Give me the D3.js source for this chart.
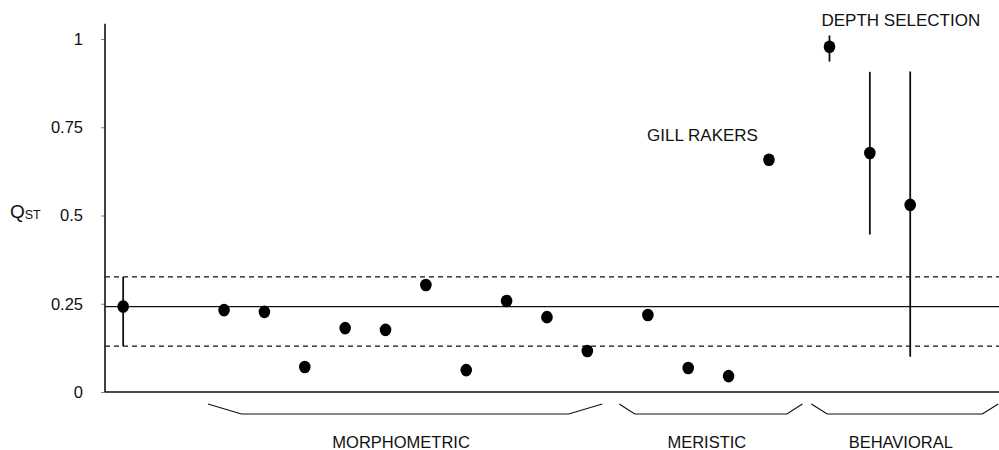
<!DOCTYPE html>
<html>
<head>
<meta charset="utf-8">
<script src="https://cdn.jsdelivr.net/npm/d3@7"></script>
<style>
  body { margin: 0; background: #fff; }
  text { font-family: "Liberation Sans", Arial, sans-serif; fill: #111; }
</style>
</head>
<body>
<div id="chart-container"></div>
<script>
// slot positions of each trait along the x axis
const positions = [0, 2.5, 3.5, 4.5, 5.5, 6.5, 7.5, 8.5, 9.5, 10.5, 11.5, 13, 14, 15, 16, 17.5, 18.5, 19.5];
const qstValues = [0.242, 0.232, 0.227, 0.071, 0.181, 0.176, 0.303, 0.062, 0.258, 0.212, 0.116, 0.218, 0.068, 0.045, 0.658, 0.978, 0.677, 0.530];
const errLow = [0.130, null, null, null, null, null, null, null, null, null, null, null, null, null, null, 0.936, 0.446, 0.100];
const errHigh = [0.326, null, null, null, null, null, null, null, null, null, null, null, null, null, null, 1.010, 0.907, 0.908];
const yTicks = [0, 0.25, 0.5, 0.75, 1];
const yTickLabels = ["0", "0.25", "0.5", "0.75", "1"];
const fstMean = 0.242;
const fstLow = 0.130;
const fstHigh = 0.326;
const groups = ["MORPHOMETRIC", "MERISTIC", "BEHAVIORAL"];
const groupStart = [2.1, 12.29, 17.05];
const groupEnd = [11.87, 16.83, 21.68];
const pointLabels = [
  { index: 14, text: "GILL RAKERS" },
  { index: 15, text: "DEPTH SELECTION" },
];

function chart() {
  const width = 999;
  const height = 450;
  const left = 105;
  const right = 999;
  const top = 39;
  const bottom = 392;

  const svg = d3
    .select("#chart-container")
    .append("svg")
    .attr("width", width)
    .attr("height", height);

  const x = d3.scaleLinear().domain([-0.45, 21.7]).range([left, right]);
  const y = d3.scaleLinear().domain([0, 1]).range([bottom, top]);

  // y axis
  const yAxis = svg
    .append("g")
    .attr("transform", `translate(${left},0)`)
    .call(
      d3
        .axisLeft(y)
        .tickValues(yTicks)
        .tickFormat((d, i) => yTickLabels[i])
        .tickSize(4)
        .tickPadding(18),
    );
  yAxis.select(".domain").remove();
  yAxis.selectAll(".tick line").attr("stroke", "#333").attr("stroke-width", 0.6);
  yAxis
    .selectAll("text")
    .style("font-family", '"Liberation Sans", Arial, sans-serif')
    .style("font-size", "16.5px")
    .attr("fill", "#111");

  svg
    .append("line")
    .attr("x1", left)
    .attr("x2", left)
    .attr("y1", y(0))
    .attr("y2", y(1.043))
    .attr("stroke", "#111")
    .attr("stroke-width", 1.6);

  // x axis baseline
  svg
    .append("line")
    .attr("x1", left)
    .attr("x2", right)
    .attr("y1", y(0))
    .attr("y2", y(0))
    .attr("stroke", "#111")
    .attr("stroke-width", 1.4);

  // Fst mean and confidence limits
  svg
    .append("line")
    .attr("x1", left)
    .attr("x2", right)
    .attr("y1", y(fstMean))
    .attr("y2", y(fstMean))
    .attr("stroke", "#111")
    .attr("stroke-width", 1.3);

  [fstLow, fstHigh].forEach((v) => {
    svg
      .append("line")
      .attr("x1", left)
      .attr("x2", right)
      .attr("y1", y(v))
      .attr("y2", y(v))
      .attr("stroke", "#111")
      .attr("stroke-width", 1.2)
      .attr("stroke-dasharray", "5,4");
  });

  const data = positions.map((p, i) => ({
    pos: p,
    value: qstValues[i],
    low: errLow[i],
    high: errHigh[i],
  }));

  // error bars
  svg
    .selectAll(".err")
    .data(data.filter((d) => d.low !== null))
    .enter()
    .append("line")
    .attr("class", "err")
    .attr("x1", (d) => x(d.pos))
    .attr("x2", (d) => x(d.pos))
    .attr("y1", (d) => y(d.low))
    .attr("y2", (d) => y(d.high))
    .attr("stroke", "#111")
    .attr("stroke-width", 1.8);

  // points
  svg
    .selectAll(".pt")
    .data(data)
    .enter()
    .append("ellipse")
    .attr("class", "pt")
    .attr("cx", (d) => x(d.pos))
    .attr("cy", (d) => y(d.value))
    .attr("rx", 5.8)
    .attr("ry", 6.3)
    .attr("fill", "#000");

  // point labels
  svg
    .append("text")
    .attr("x", x(positions[pointLabels[0].index]) - 11)
    .attr("y", y(qstValues[pointLabels[0].index]) - 19)
    .attr("text-anchor", "end")
    .style("font-size", "17px")
    .text(pointLabels[0].text);

  svg
    .append("text")
    .attr("x", x(positions[pointLabels[1].index]) - 8)
    .attr("y", y(qstValues[pointLabels[1].index]) - 21)
    .attr("text-anchor", "start")
    .style("font-size", "17px")
    .text(pointLabels[1].text);

  // group brackets
  const bracketTop = bottom + 12;
  const bracketBottom = bottom + 22;
  groups.forEach((g, i) => {
    const x0 = x(groupStart[i]);
    const x1 = x(groupEnd[i]);
    const inset = (x1 - x0) * 0.085;
    svg
      .append("path")
      .attr(
        "d",
        d3.line()([
          [x0, bracketTop],
          [x0 + inset, bracketBottom],
          [x1 - inset, bracketBottom],
          [x1, bracketTop],
        ]),
      )
      .attr("fill", "none")
      .attr("stroke", "#111")
      .attr("stroke-width", 1.2);

    svg
      .append("text")
      .attr("x", (x0 + x1) / 2 - 4)
      .attr("y", bottom + 56)
      .attr("text-anchor", "middle")
      .style("font-size", "16.5px")
      .text(g);
  });

  // Q_ST label
  const qLabel = svg
    .append("text")
    .attr("x", 10)
    .attr("y", y(0.5) + 2)
    .style("font-size", "19px");
  qLabel.append("tspan").text("Q");
  qLabel
    .append("tspan")
    .attr("dy", 1)
    .style("font-size", "12.5px")
    .text("ST");
}

chart();
</script>
</body>
</html>
